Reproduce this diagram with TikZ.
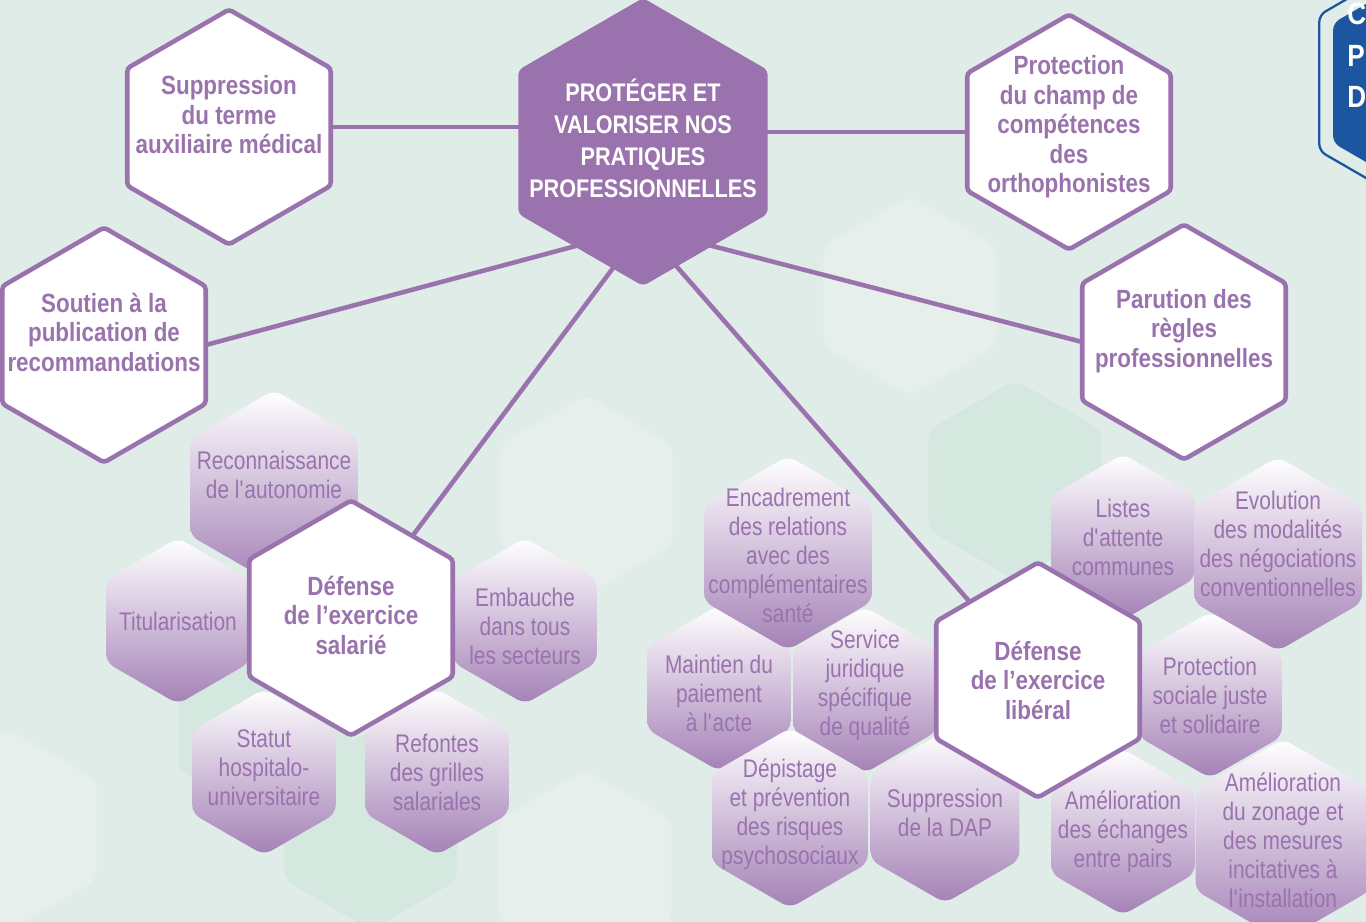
\documentclass[tikz,border=0pt]{standalone}
\usepackage{fontspec}
\setmainfont{Liberation Sans}
\newfontfamily\thinfont[FakeStretch=0.82]{Liberation Sans}
\newfontfamily\heavyfont[FakeStretch=0.85]{Liberation Sans}
\usetikzlibrary{shapes.geometric}

\pgfdeclarelayer{deco}
\pgfdeclarelayer{links}
\pgfsetlayers{deco,links,main}

\definecolor{mint}{HTML}{E0ECE7}
\definecolor{mintpale}{HTML}{E7EFEC}
\definecolor{mintdeep}{HTML}{D4E8E0}
\definecolor{plum}{HTML}{9A73AE}
\definecolor{lilac}{HTML}{E6DCEC}
\definecolor{badgeblue}{HTML}{1C56A0}

\tikzset{
	hexa/.style={regular polygon, regular polygon sides=6, shape border rotate=30, inner sep=0pt, outer sep=0pt},
	bighex/.style={hexa, minimum size=4.7cm, draw=plum, line width=2.6pt, fill=white, rounded corners=2pt},
	tile/.style={hexa, minimum size=3.32cm, rounded corners=5pt, top color=white, middle color=lilac, bottom color=plum!90},
	decohex/.style={hexa, minimum size=4cm, rounded corners=6pt},
	boldtext/.style={font=\heavyfont\bfseries\fontsize{15}{16.8}\selectfont, text=plum, align=center},
	thintext/.style={font=\thinfont\fontsize{14.5}{16.5}\selectfont, text=plum, align=center},
	link/.style={draw=plum, line width=2.6pt},
}

\begin{document}
\begin{tikzpicture}[x=0.02cm, y=-0.02cm]
	\useasboundingbox (0,0) rectangle (1366,922);

	% Background
	\begin{pgfonlayer}{deco}
		\fill[mint] (0,0) rectangle (1366,922);
		\foreach \x/\y/\c [count=\i] in {910/296/mintpale, 1015/480/mintdeep, 586/495/mintpale,
				265/720/mintdeep, 371/830/mintdeep, 585/870/mintpale, 10/830/mintpale}
			\node[decohex, fill=\c] (deco\i) at (\x,\y) {};
	\end{pgfonlayer}

	% Badge (top right)
	\node[hexa, minimum size=5.44cm, draw=badgeblue, line width=1.3pt, rounded corners=4pt] (badgerim) at (1437,83) {};
	\node[hexa, minimum size=4.8cm, fill=badgeblue, rounded corners=4pt] (badge) at (1437,83) {};
	\node[font=\heavyfont\bfseries\fontsize{17.5}{23.9}\selectfont, text=white, align=left, anchor=base west, inner sep=0pt] (badgetext) at (1347,108) {C\\P\\D};

	% Centre
	\node[hexa, minimum size=5.76cm, fill=plum, rounded corners=3pt,
		label={[font=\heavyfont\bfseries\fontsize{14.5}{18.2}\selectfont, text=white, align=center, yshift=0.08cm]center:PROTÉGER ET\\VALORISER NOS\\PRATIQUES\\PROFESSIONNELLES}] (centre) at (643,142) {};
	\coordinate (hub) at (643,228);

	% Outer ring
	\node[bighex, label={[boldtext, yshift=0.24cm]center:Suppression\\du terme\\auxiliaire médical}] (supp) at (229,127) {};
	\node[bighex, label={[boldtext, yshift=0.1cm]center:Protection\\du champ de\\compétences\\des\\orthophonistes}] (champ) at (1069,132) {};
	\node[bighex, label={[boldtext, yshift=0.26cm]center:Soutien à la\\publication de\\recommandations}] (soutien) at (104,345) {};
	\node[bighex, label={[boldtext, yshift=0.22cm]center:Parution des\\règles\\professionnelles}] (parution) at (1184,342) {};

	% Salaried cluster
	\node[tile, minimum size=3.88cm, label={[thintext, yshift=0.24cm]center:Reconnaissance\\de l\textquotesingle autonomie}] (recon) at (274,487) {};
	\node[tile, label={[thintext]center:Titularisation}] (titul) at (178,621) {};
	\node[tile, label={[thintext, yshift=-0.1cm]center:Embauche\\dans tous\\les secteurs}] (embauche) at (525,621) {};
	\node[tile, label={[thintext, yshift=0.08cm]center:Statut\\hospitalo-\\universitaire}] (statut) at (264,772) {};
	\node[tile, label={[thintext]center:Refontes\\des grilles\\salariales}] (refontes) at (437,772) {};
	\node[bighex, label={[boldtext, yshift=0.06cm]center:Défense\\de l’exercice\\salarié}] (salarie) at (351,618) {};

	% Liberal cluster
	\node[tile, label={[thintext, yshift=-0.1cm]center:Maintien du\\paiement\\à l\textquotesingle acte}] (maintien) at (719,688) {};
	\node[tile, label={[thintext, yshift=0.1cm]center:Service\\juridique\\spécifique\\de qualité}] (service) at (865,690) {};
	\node[tile, minimum size=3.88cm, label={[thintext, yshift=-0.04cm]center:Encadrement\\des relations\\avec des\\complémentaires\\santé}] (encadr) at (788,553) {};
	\node[tile, minimum size=3.6cm, label={[thintext, yshift=0.08cm]center:Dépistage\\et prévention\\des risques\\psychosociaux}] (depist) at (790,818) {};
	\node[tile, minimum size=3.44cm, label={[thintext, yshift=0.08cm]center:Suppression\\de la DAP}] (dap) at (945,817) {};
	\node[tile, label={[thintext]center:Listes\\d\textquotesingle attente\\communes}] (listes) at (1123,537) {};
	\node[tile, minimum size=3.88cm, label={[thintext, yshift=0.2cm]center:Evolution\\des modalités\\des négociations\\conventionnelles}] (evol) at (1278,554) {};
	\node[tile, label={[thintext]center:Protection\\sociale juste\\et solidaire}] (protsoc) at (1210,695) {};
	\node[tile, label={[thintext]center:Amélioration\\des échanges\\entre pairs}] (echanges) at (1123,832) {};
	\node[tile, minimum size=4.04cm, label={[thintext]center:Amélioration\\du zonage et\\des mesures\\incitatives à\\l\textquotesingle installation}] (zonage) at (1283,840) {};
	\node[bighex, label={[boldtext]center:Défense\\de l’exercice\\libéral}] (liberal) at (1038,680) {};

	% Links
	\begin{pgfonlayer}{links}
		\draw[link] (supp.0) -- (supp.0 -| centre);
		\draw[link] (champ.180) -- (champ.180 -| centre);
		\draw[link] (hub) -- (soutien.0);
		\draw[link] (hub) -- (parution.180);
		\draw[link] (hub) -- (salarie);
		\draw[link] (hub) -- (liberal);
	\end{pgfonlayer}
\end{tikzpicture}
\end{document}
